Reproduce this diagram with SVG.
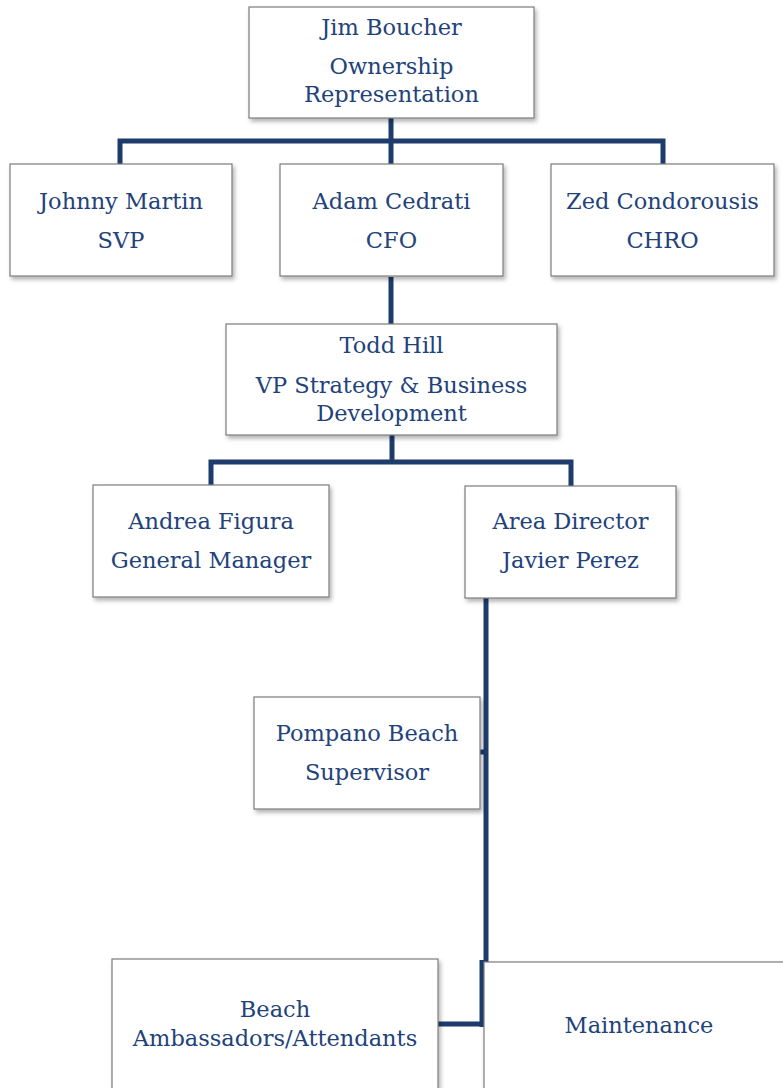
<svg xmlns="http://www.w3.org/2000/svg" width="783" height="1088" viewBox="0 0 783 1088">
<style>
.box{fill:#fff;stroke:#7c7c7c;stroke-width:1.2;filter:url(#sh)}
.t{font-family:"DejaVu Serif","Liberation Serif",serif;font-size:22.5px;fill:#22427a;text-anchor:middle}
.c{fill:none;stroke:#1d3c6c;stroke-width:5}
</style>
<defs>
<filter id="sh" x="-10%" y="-10%" width="125%" height="130%">
<feDropShadow dx="2" dy="3" stdDeviation="2" flood-color="#000" flood-opacity="0.3"/>
</filter>
</defs>
<rect width="783" height="1088" fill="#fff"/>
<g id="connectors">
<path class="c" d="M391 118V141"/>
<path class="c" d="M120 164V141H663V164"/>
<path class="c" d="M391 141V164"/>
<path class="c" d="M391 277V325"/>
<path class="c" d="M392 435V462"/>
<path class="c" d="M211 485V462H571V486"/>
<path class="c" d="M486 598V962"/>
<path class="c" d="M480 752H486"/>
<path class="c" d="M482 960V1027"/>
<path class="c" d="M438 1024H482"/>
</g>
<g id="jim">
<rect class="box" x="249" y="7" width="285" height="111"/>
<text class="t" x="391.5" y="35">Jim Boucher</text>
<text class="t" x="391.5" y="74">Ownership</text>
<text class="t" x="391.5" y="102">Representation</text>
</g>
<g id="johnny">
<rect class="box" x="10" y="164" width="222" height="112"/>
<text class="t" x="121" y="209">Johnny Martin</text>
<text class="t" x="121" y="248">SVP</text>
</g>
<g id="adam">
<rect class="box" x="280" y="164" width="223" height="112"/>
<text class="t" x="391.5" y="209">Adam Cedrati</text>
<text class="t" x="391.5" y="248">CFO</text>
</g>
<g id="zed">
<rect class="box" x="551" y="164" width="223" height="112"/>
<text class="t" x="662.5" y="209">Zed Condorousis</text>
<text class="t" x="662.5" y="248">CHRO</text>
</g>
<g id="todd">
<rect class="box" x="226" y="324" width="331" height="111"/>
<text class="t" x="391.5" y="353">Todd Hill</text>
<text class="t" x="391.5" y="393">VP Strategy &amp; Business</text>
<text class="t" x="391.5" y="421">Development</text>
</g>
<g id="andrea">
<rect class="box" x="93" y="485" width="236" height="112"/>
<text class="t" x="211" y="529">Andrea Figura</text>
<text class="t" x="211" y="568">General Manager</text>
</g>
<g id="javier">
<rect class="box" x="465" y="486" width="211" height="112"/>
<text class="t" x="570.5" y="529">Area Director</text>
<text class="t" x="570.5" y="568">Javier Perez</text>
</g>
<g id="pompano">
<rect class="box" x="254" y="697" width="226" height="112"/>
<text class="t" x="367" y="741">Pompano Beach</text>
<text class="t" x="367" y="780">Supervisor</text>
</g>
<g id="beach">
<rect class="box" x="112" y="959" width="326" height="140"/>
<text class="t" x="275" y="1017">Beach</text>
<text class="t" x="275" y="1046">Ambassadors/Attendants</text>
</g>
<g id="maintenance">
<rect class="box" x="484" y="962" width="310" height="140"/>
<text class="t" x="639" y="1033">Maintenance</text>
</g>
</svg>
